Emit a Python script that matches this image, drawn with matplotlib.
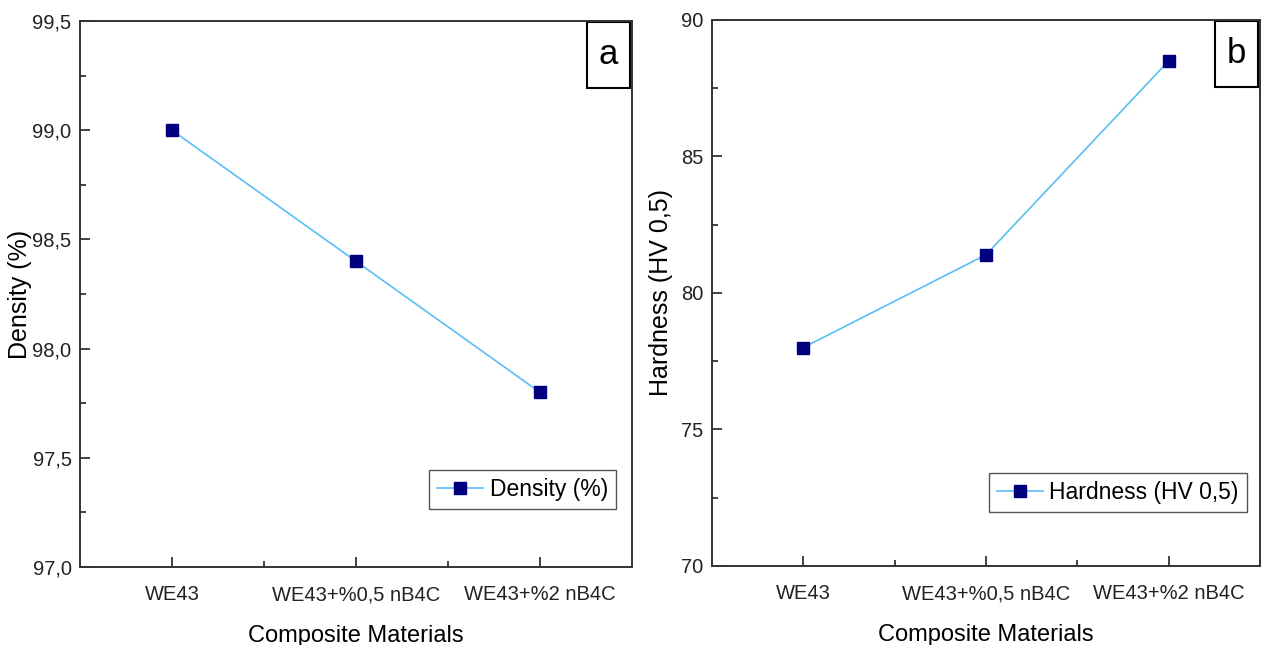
import numpy as np
import matplotlib
matplotlib.use('Agg')
import matplotlib.pyplot as plt
from matplotlib.patches import Rectangle
from matplotlib.ticker import FixedLocator, FuncFormatter

plt.rcParams['font.family'] = ['Liberation Sans', 'DejaVu Sans']

materials = ['WE43', 'WE43+%0,5 nB4C', 'WE43+%2 nB4C']
density = [99.0, 98.4, 97.8]
hardness = [78.0, 81.4, 88.5]

line_col = '#5BBDF5'
mark_col = '#00007F'


def comma(dec):
    return FuncFormatter(lambda v, p: ('{:.%df}' % dec).format(v).replace('.', ','))


def draw_panel(ax, values, ylabel, ylim, major, minor, dec, tag, leg_anchor, ylab_x):
    x = np.arange(len(materials))
    ax.plot(x, values, color=line_col, lw=1.2, marker='s', ms=8,
            mfc=mark_col, mec=mark_col, label=ylabel)
    ax.set_xlim(-0.5, 2.5)
    ax.set_ylim(*ylim)
    ax.set_xticks(x)
    ax.set_xticklabels(materials)
    ax.xaxis.set_minor_locator(FixedLocator([0.5, 1.5]))
    ax.set_yticks(major)
    ax.yaxis.set_minor_locator(FixedLocator(minor))
    ax.yaxis.set_major_formatter(comma(dec))
    ax.tick_params(which='both', direction='in', labelsize=14.5, colors='#222222', width=1.2)
    ax.tick_params(which='major', length=7)
    ax.tick_params(which='minor', length=4)
    ax.tick_params(axis='x', pad=13)
    ax.tick_params(axis='y', pad=6)
    for s in ax.spines.values():
        s.set_linewidth(1.4)
        s.set_color('#333333')
    ax.set_xlabel('Composite Materials', fontsize=17, labelpad=15)
    ax.set_ylabel(ylabel, fontsize=18)
    ax.yaxis.set_label_coords(ylab_x, 0.5)
    leg = ax.legend(loc='lower right', bbox_to_anchor=leg_anchor, borderaxespad=0,
                    fontsize=16.5, fancybox=False, framealpha=1, edgecolor='#555555',
                    handlelength=2.0, handletextpad=0.3, borderpad=0.35)
    leg.get_frame().set_linewidth(1.0)
    # panel letter box in the top right corner
    ax.add_patch(Rectangle((0.918, 0.878), 0.078, 0.12, transform=ax.transAxes,
                           fill=False, ec='black', lw=1.5, clip_on=False))
    ax.text(0.957, 0.938, tag, transform=ax.transAxes, fontsize=25,
            ha='center', va='center')


fig = plt.figure(figsize=(12.61, 6.45), dpi=100)
ax1 = fig.add_axes([0.0634, 0.1209, 0.4377, 0.8465])
ax2 = fig.add_axes([0.5646, 0.1225, 0.4346, 0.8465])

draw_panel(ax1, density, 'Density (%)', (97.0, 99.5),
           [97.0, 97.5, 98.0, 98.5, 99.0, 99.5],
           [97.25, 97.75, 98.25, 98.75, 99.25], 1, 'a', (0.971, 0.106), -0.087)
draw_panel(ax2, hardness, 'Hardness (HV 0,5)', (70, 90),
           [70, 75, 80, 85, 90], [72.5, 77.5, 82.5, 87.5], 0, 'b', (0.976, 0.099), -0.071)

fig.savefig('out.png', dpi=100)
